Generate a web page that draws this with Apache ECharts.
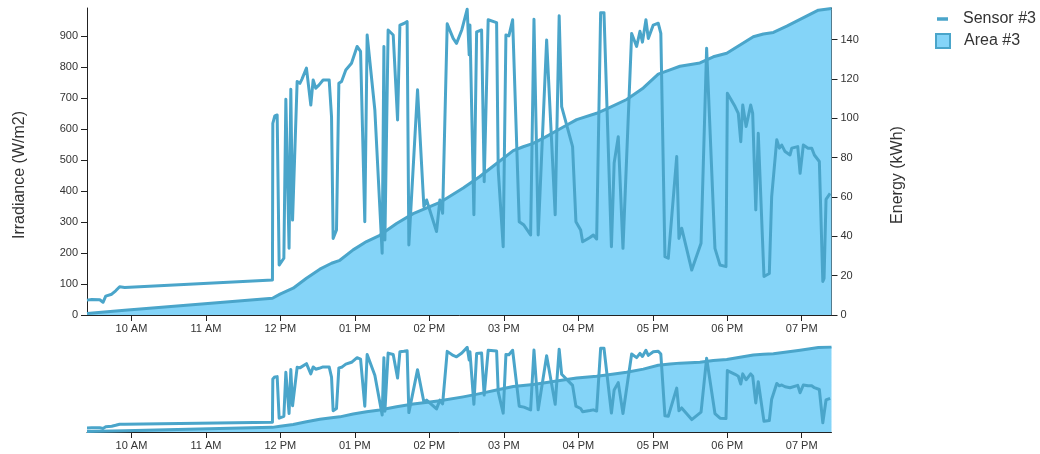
<!DOCTYPE html>
<html>
<head>
<meta charset="utf-8">
<script src="https://cdn.jsdelivr.net/npm/echarts@6/dist/echarts.min.js"></script>
<style>
html,body{margin:0;padding:0;background:#fff;}
#chart{width:1040px;height:454px;}
</style>
</head>
<body>
<div id="chart"></div>
<script>
// ---- data ----
const sensorName = 'Sensor #3';
const areaName = 'Area #3';

const sensorTimes = [
'09:24:12','09:28:00','09:34:30','09:37:06','09:39:18','09:44:06','09:47:18','09:50:30','09:54:36',
'11:53:36','11:53:54','11:55:30','11:57:24','11:59:00','12:02:48','12:04:24','12:07:00','12:08:24','12:09:48','12:10:48',
'12:13:30','12:15:42','12:17:18','12:21:00','12:24:30','12:26:24','12:28:30','12:31:12','12:34:24','12:39:18',
'12:41:12','12:42:30','12:45:12','12:47:06','12:49:18','12:52:42','12:57:18','13:01:48','13:04:36','13:08:00',
'13:09:54','13:16:06','13:22:00','13:23:24','13:24:12','13:26:48','13:30:54','13:34:24','13:36:18','13:39:30',
'13:42:06','13:43:30','13:50:30','13:55:36','13:57:48','14:05:48','14:08:30','14:10:42','14:14:24','14:19:12',
'14:21:54','14:26:12','14:30:30','14:32:06','14:32:42','14:35:54','14:38:06','14:42:06','14:44:12','14:47:24',
'14:54:12','14:55:30','14:59:30','15:01:42','15:04:06','15:07:06','15:12:24','15:16:12','15:21:36','15:24:18',
'15:27:42','15:34:30','15:41:24','15:44:36','15:46:36','15:55:24','15:58:06','16:01:54','16:03:30','16:09:24',
'16:12:06','16:14:48','16:18:00','16:20:42','16:26:42','16:28:54','16:32:12','16:36:00','16:43:00','16:47:00',
'16:49:42','16:51:42','16:54:30','16:56:24','17:00:24','17:04:24','17:06:30','17:09:48','17:12:30','17:19:18',
'17:21:06','17:23:18','17:31:24','17:38:54','17:43:24','17:50:06','17:54:12','17:59:00','18:00:06','18:06:18',
'18:08:54','18:10:54','18:12:30','18:15:12','18:18:54','18:20:30','18:23:00','18:25:00','18:26:24','18:29:36',
'18:33:54','18:35:48','18:39:54','18:42:00','18:43:54','18:46:36','18:50:36','18:52:00','18:56:48','18:58:42',
'19:01:18','19:05:06','19:08:06','19:10:12','19:14:12','19:17:00','19:18:00','19:19:36','19:22:54'
];
const sensorValues = [
48,50,49,41,61,67,78,91,89,
113,618,642,645,161,183,696,215,728,306,306,
753,747,760,796,677,758,731,742,758,758,
640,247,274,747,753,790,812,866,850,301,
903,661,199,866,242,919,903,629,935,940,
946,226,726,349,371,269,371,328,939,892,
876,920,986,839,935,323,913,919,430,952,
943,468,220,903,900,952,301,290,258,954,
258,887,323,965,672,543,301,274,236,250,
258,245,975,975,220,490,575,215,908,866,
915,880,952,892,935,941,908,188,183,511,
247,280,145,231,860,215,161,156,715,672,
650,559,677,608,677,650,339,586,586,124,
134,382,565,538,548,527,516,538,543,457,
548,538,538,516,495,108,118,373,392
];

const energyTimes = [
'09:24:12','09:54:36','11:53:36','11:59:42','12:10:18','12:21:00','12:31:48','12:41:12','12:47:54','12:58:36',
'13:09:24','13:20:06','13:33:36','13:47:00','14:00:24','14:08:30','14:27:18','14:40:42','14:54:12','15:07:36',
'15:15:36','15:23:42','15:34:30','15:47:54','15:58:42','16:14:48','16:22:54','16:39:00','16:52:24','17:04:24',
'17:13:54','17:21:54','17:38:00','17:48:48','17:59:36','18:10:18','18:21:00','18:29:06','18:37:12','18:48:00',
'18:58:42','19:13:24','19:24:00'
];
const energyValues = [
0.8,2.4,8.5,10.6,13.6,18.7,23.3,26.3,27.8,33.1,
37.3,40.5,46.5,51.5,55.1,57.2,64.5,70.4,77.0,83.5,
85.5,87.2,90.8,95.5,99.3,102.5,104.8,109.5,115.4,122.4,
124.6,126.4,128.1,131.2,133.0,137.2,141.4,142.8,143.6,146.8,
150.2,154.9,155.8
];

const tickTimes = ['10:00:00','11:00:00','12:00:00','13:00:00','14:00:00','15:00:00','16:00:00','17:00:00','18:00:00','19:00:00'];
const tickLabels = ['10 AM','11 AM','12 PM','01 PM','02 PM','03 PM','04 PM','05 PM','06 PM','07 PM'];

const leftAxisName = 'Irradiance (W/m2)';
const rightAxisName = 'Energy (kWh)';
const leftAxisMax = 990;
const rightAxisMax = 156;

// ---- helpers ----
function toMin(s){ const p = s.split(':').map(Number); return p[0]*60 + p[1] + (p[2]||0)/60; }
const tickMins = tickTimes.map(toMin);
const sensorData = sensorTimes.map((t,i)=>[toMin(t), sensorValues[i]]);
const energyData = energyTimes.map((t,i)=>[toMin(t), energyValues[i]]);
function fmtX(v){ for (let i=0;i<tickMins.length;i++){ if (Math.abs(tickMins[i]-v)<0.01) return tickLabels[i]; } return ''; }

const FONT = '"Liberation Sans", Arial, sans-serif';
const LINE = '#4aa5ca';
const FILL = '#84d4f8';
const AXIS = '#222';
const TXT = '#333';

function xAxisCfg(gridIndex){
  return {
    type:'value', gridIndex, min:'dataMin', max:'dataMax',
    axisLine:{show:true, onZero:false, lineStyle:{color:AXIS, width:1}},
    axisTick:{show:true, length:6, lineStyle:{color:AXIS}, customValues: tickMins},
    axisLabel:{show:true, customValues: tickMins, formatter: fmtX, fontSize:11, color:TXT, fontFamily:FONT, margin:8},
    splitLine:{show:false}
  };
}

const chart = echarts.init(document.getElementById('chart'), null, {renderer:'canvas'});
chart.setOption({
  animation:false,
  backgroundColor:'#fff',
  textStyle:{fontFamily:FONT},
  legend:[
    {data:[{name:sensorName, icon:'rect', itemStyle:{color:LINE, borderWidth:0}}],
     orient:'vertical', left:932, top:6, itemWidth:11, itemHeight:3.5, selectedMode:false,
     textStyle:{fontSize:16, color:TXT, fontFamily:FONT, padding:[0,0,0,10]}},
    {data:[{name:areaName, icon:'rect', itemStyle:{color:FILL, borderColor:LINE, borderWidth:2}}],
     orient:'vertical', left:930, top:28, itemWidth:14, itemHeight:14, selectedMode:false,
     textStyle:{fontSize:16, color:TXT, fontFamily:FONT, padding:[0,0,0,9]}}
  ],
  grid:[
    {left:87, right:208.5, top:8, bottom:139, containLabel:false},
    {left:87, right:208.5, top:347, height:85, containLabel:false}
  ],
  xAxis:[xAxisCfg(0), xAxisCfg(1)],
  yAxis:[
    {type:'value', gridIndex:0, position:'left', min:0, max:leftAxisMax, interval:100,
     name:leftAxisName, nameLocation:'middle', nameGap:59,
     nameTextStyle:{fontSize:16, color:TXT, fontFamily:FONT, padding:[0,27,0,0]},
     axisLine:{show:true, lineStyle:{color:AXIS, width:1}},
     axisTick:{show:true, length:6, lineStyle:{color:AXIS}},
     axisLabel:{fontSize:11, color:TXT, fontFamily:FONT, margin:9, showMaxLabel:false},
     splitLine:{show:false}},
    {type:'value', gridIndex:0, position:'right', min:0, max:rightAxisMax, interval:20,
     name:rightAxisName, nameLocation:'middle', nameGap:58,
     nameTextStyle:{fontSize:16, color:TXT, fontFamily:FONT, padding:[0,27,0,0]},
     axisLine:{show:true, lineStyle:{color:AXIS, width:1}},
     axisTick:{show:true, length:6, lineStyle:{color:AXIS}},
     axisLabel:{fontSize:11, color:TXT, fontFamily:FONT, margin:9, showMaxLabel:false},
     splitLine:{show:false}},
    {type:'value', gridIndex:1, min:0, max:leftAxisMax, show:false, splitLine:{show:false}},
    {type:'value', gridIndex:1, min:0, max:rightAxisMax, show:false, splitLine:{show:false}}
  ],
  series:[
    {name:areaName, type:'line', xAxisIndex:0, yAxisIndex:1, data:energyData, showSymbol:false, symbol:'none',
     lineStyle:{color:LINE, width:3, join:'round'}, itemStyle:{color:FILL}, areaStyle:{color:FILL, opacity:1}, z:2},
    {name:sensorName, type:'line', xAxisIndex:0, yAxisIndex:0, data:sensorData, showSymbol:false, symbol:'none',
     lineStyle:{color:LINE, width:3, join:'round'}, itemStyle:{color:LINE}, z:3},
    {name:areaName, type:'line', xAxisIndex:1, yAxisIndex:3, data:energyData, showSymbol:false, symbol:'none',
     lineStyle:{color:LINE, width:3, join:'round'}, itemStyle:{color:FILL}, areaStyle:{color:FILL, opacity:1}, z:2},
    {name:sensorName, type:'line', xAxisIndex:1, yAxisIndex:2, data:sensorData, showSymbol:false, symbol:'none',
     lineStyle:{color:LINE, width:3, join:'round'}, itemStyle:{color:LINE}, z:3}
  ]
});
</script>
</body>
</html>
